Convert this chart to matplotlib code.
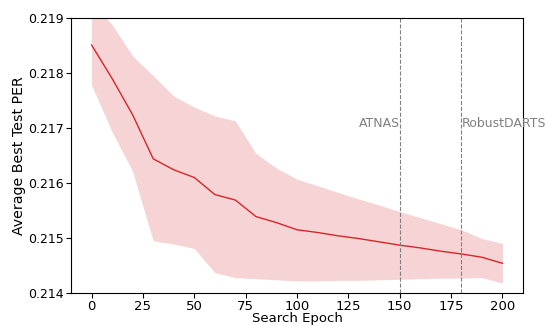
import matplotlib
matplotlib.use("Agg")
import matplotlib.pyplot as plt
import numpy as np

epochs = [0, 10, 20, 30, 40, 50, 60, 70, 80, 90, 100, 110, 120, 130, 140, 150, 160, 170, 180, 190, 200]
mean_per = [0.21851, 0.21790, 0.21724, 0.21644, 0.21624, 0.21610, 0.21579, 0.21569, 0.21539, 0.21528,
            0.21515, 0.21510, 0.21504, 0.21499, 0.21493, 0.21487, 0.21482, 0.21476, 0.21471, 0.21465, 0.21454]
upper_per = [0.21930, 0.21888, 0.21831, 0.21795, 0.21758, 0.21738, 0.21722, 0.21713, 0.21654, 0.21627,
             0.21607, 0.21595, 0.21583, 0.21571, 0.21560, 0.21548, 0.21537, 0.21526, 0.21515, 0.21499, 0.21490]
lower_per = [0.21778, 0.21693, 0.21621, 0.21495, 0.21489, 0.21481, 0.21437, 0.21428, 0.21426, 0.21424,
             0.21422, 0.21422, 0.21423, 0.21423, 0.21424, 0.21425, 0.21426, 0.21427, 0.21427, 0.21428, 0.21418]
markers = [150, 180]
marker_labels = ["ATNAS", "RobustDARTS"]

fig = plt.figure(figsize=(5.49, 3.26), dpi=100)
ax = fig.add_axes([71/549, 1-293/326, (523-71)/549, (293-18)/326])
ax.fill_between(epochs, lower_per, upper_per, color="tab:red", alpha=0.2, linewidth=0)
ax.plot(epochs, mean_per, color="tab:red", linewidth=1)
for m in markers:
    ax.axvline(m, color="gray", linestyle="--", linewidth=0.8)
for m, lab, ha in zip(markers, marker_labels, ["right", "left"]):
    ax.text(m, 0.21708, lab, ha=ha, va="center", color="gray", fontsize=9, clip_on=False)
ax.set_xlim(-10, 210)
ax.set_ylim(0.214, 0.219)
ax.set_xticks([0, 25, 50, 75, 100, 125, 150, 175, 200])
ax.set_yticks([0.214, 0.215, 0.216, 0.217, 0.218, 0.219])
ax.tick_params(axis="x", labelsize=9.5, pad=1.5)
ax.tick_params(axis="y", labelsize=9, pad=1.5)
ax.set_xlabel("Search Epoch", fontsize=9.5, labelpad=-0.5)
ax.set_ylabel("Average Best Test PER", fontsize=10.2, labelpad=2)
fig.savefig("out.png", dpi=100)
